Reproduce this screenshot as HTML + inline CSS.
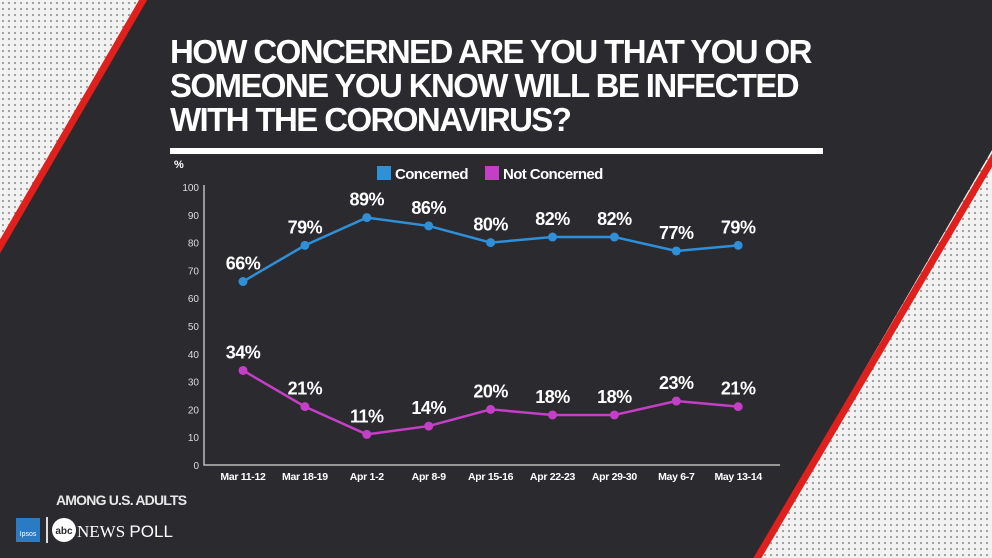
<!DOCTYPE html>
<html><head><meta charset="utf-8"><style>
body{margin:0;width:992px;height:558px;overflow:hidden;background:#2a2a2f;font-family:"Liberation Sans",sans-serif;}
svg{display:block}
</style></head><body>
<svg width="992" height="558">
<defs><pattern id="dots" width="6" height="6" patternUnits="userSpaceOnUse"><rect width="6" height="6" fill="#f2f2f2"/><circle cx="3" cy="3" r="1.1" fill="#9a9a9a"/></pattern></defs>
<polygon points="0,0 140,0 0,245" fill="url(#dots)"/>
<line x1="146" y1="-5" x2="-5" y2="255" stroke="#e0201c" stroke-width="7"/>
<polygon points="992,150 992,558 755,558" fill="url(#dots)"/>
<line x1="998" y1="150" x2="755" y2="562" stroke="#e0201c" stroke-width="7"/>
<g fill="#fff" font-weight="bold" font-size="33" style="letter-spacing:-1.6px">
<text x="170" y="63">HOW CONCERNED ARE YOU THAT YOU OR</text>
<text x="170" y="97">SOMEONE YOU KNOW WILL BE INFECTED</text>
<text x="170" y="131">WITH THE CORONAVIRUS?</text>
</g>
<rect x="170" y="148" width="653" height="6" fill="#fff"/>
<text x="174" y="168" fill="#fff" font-size="11" font-weight="bold">%</text>
<rect x="377" y="166" width="14" height="14" fill="#2f8fd8"/>
<text x="395" y="179" fill="#fff" font-size="15" font-weight="bold" style="letter-spacing:-0.6px">Concerned</text>
<rect x="485" y="166" width="14" height="14" fill="#c43fc6"/>
<text x="503" y="179" fill="#fff" font-size="15" font-weight="bold" style="letter-spacing:-0.6px">Not Concerned</text>
<g id="plot"></g>
<text x="56" y="505" fill="#e8e8e8" font-size="14" font-weight="bold" style="letter-spacing:-0.8px">AMONG U.S. ADULTS</text>
<rect x="16" y="518" width="24" height="24" fill="#2a7bc4"/>
<text x="28" y="536" fill="#fff" font-size="7" text-anchor="middle">Ipsos</text>
<rect x="46" y="517" width="2" height="26" fill="#ddd"/>
<circle cx="64" cy="530" r="12" fill="#fff"/>
<text x="64" y="534" fill="#2a2a2f" font-size="10" font-weight="bold" text-anchor="middle">abc</text>
<text x="77" y="537" fill="#fff" font-size="17" font-family="Liberation Serif, serif">NEWS <tspan font-family="Liberation Sans, sans-serif">POLL</tspan></text>
</svg>
<script>
const categories=["Mar 11-12","Mar 18-19","Apr 1-2","Apr 8-9","Apr 15-16","Apr 22-23","Apr 29-30","May 6-7","May 13-14"];
const concerned=[66,79,89,86,80,82,82,77,79];
const notConcerned=[34,21,11,14,20,18,18,23,21];
const yTicks=[0,10,20,30,40,50,60,70,80,90,100];
const NS="http://www.w3.org/2000/svg";
const g=document.getElementById('plot');
const x0=243,dx=61.9,yBase=465,yScale=2.78;
const xp=i=>x0+i*dx, yp=v=>yBase-v*yScale;
function mk(t,a,p){const e=document.createElementNS(NS,t);for(const k in a)e.setAttribute(k,a[k]);(p||g).appendChild(e);return e;}
let ax=mk('path',{d:`M204,${yp(100)-2}V${yBase}H780`,stroke:'#bbb','stroke-width':1.5,fill:'none'});


yTicks.forEach(v=>{const t=mk('text',{x:199,y:yp(v)+4,fill:'#ddd','font-size':10,'text-anchor':'end'});t.textContent=v;

});
categories.forEach((c,i)=>{const t=mk('text',{x:xp(i),y:480,fill:'#fff','font-size':10.5,'font-weight':'bold','text-anchor':'middle',style:'letter-spacing:-0.3px'});t.textContent=c;

});
function series(vals,color,name){
const l=mk('polyline',{points:vals.map((v,i)=>xp(i)+','+yp(v)).join(' '),stroke:color,'stroke-width':2.5,fill:'none'});


vals.forEach((v,i)=>{const c=mk('circle',{cx:xp(i),cy:yp(v),r:4.5,fill:color});


const t=mk('text',{x:xp(i),y:yp(v)-12,fill:'#fff','font-size':18,'font-weight':'bold','text-anchor':'middle',style:'letter-spacing:-0.5px'});t.textContent=v+'%';

});}
series(concerned,'#2f8fd8','concerned');
series(notConcerned,'#c43fc6','not-concerned');
</script>
</body></html>
